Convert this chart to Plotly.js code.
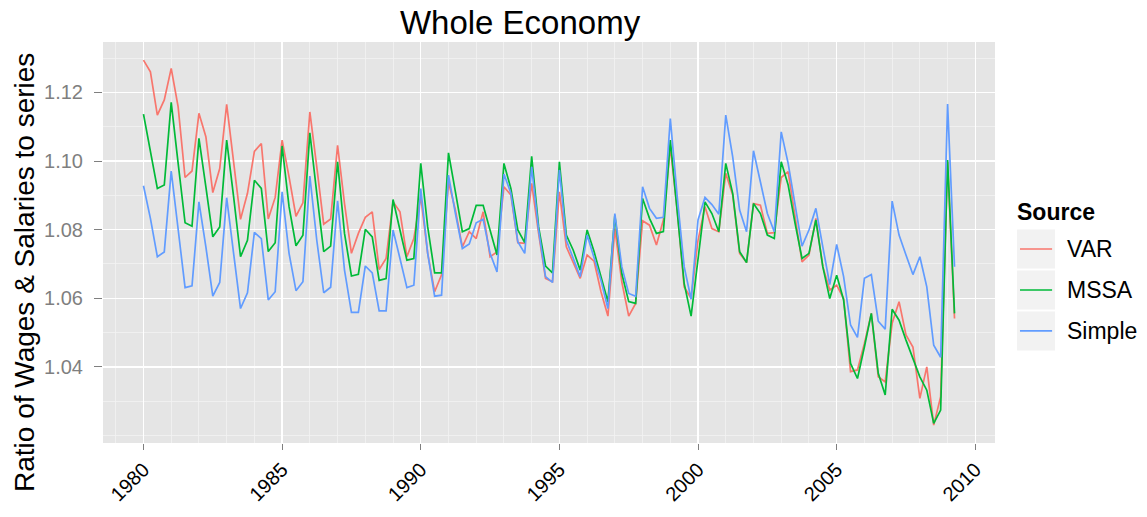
<!DOCTYPE html>
<html>
<head>
<meta charset="utf-8">
<script src="https://cdn.plot.ly/plotly-3.0.1.min.js"></script>
<style>html,body{margin:0;padding:0;background:#fff;}#chart{width:1147px;height:517px;}</style>
</head>
<body>
<div id="chart"></div>
<script>
// Quarterly series, 1980 Q1 .. 2009 Q2
const startYear = 1980;
const legendTitle = "Source";
const seriesNames = ["VAR", "MSSA", "Simple"];
const seriesColors = ["#F8766D", "#00BA38", "#619CFF"];

const varValues = [
1.1294,1.1260,1.1134,1.1178,1.1270,1.1158,1.0952,1.0971,1.1139,1.1071,
1.0908,1.0978,1.1165,1.0998,1.0830,1.0906,1.1028,1.1051,1.0831,1.0894,
1.1061,1.0954,1.0839,1.0878,1.1143,1.0983,1.0816,1.0831,1.1046,1.0876,
1.0731,1.0789,1.0836,1.0852,1.0684,1.0716,1.0881,1.0852,1.0721,1.0774,
1.0896,1.0731,1.0619,1.0668,1.0939,1.0857,1.0750,1.0794,1.0774,1.0852,
1.0721,1.0735,1.0925,1.0901,1.0762,1.0760,1.0935,1.0789,1.0658,1.0648,
1.0910,1.0750,1.0702,1.0658,1.0726,1.0708,1.0619,1.0548,1.0803,1.0648,
1.0548,1.0585,1.0826,1.0813,1.0755,1.0828,1.1041,1.0857,1.0633,1.0600,
1.0769,1.0867,1.0803,1.0794,1.0964,1.0901,1.0731,1.0704,1.0876,1.0871,
1.0789,1.0791,1.0952,1.0969,1.0837,1.0706,1.0726,1.0833,1.0692,1.0624,
1.0638,1.0599,1.0386,1.0391,1.0468,1.0556,1.0371,1.0356,1.0527,1.0590,
1.0493,1.0458,1.0308,1.0400,1.0230,1.0313,1.0998,1.0541];

const mssaValues = [
1.1137,1.1032,1.0920,1.0930,1.1171,1.0993,1.0820,1.0810,1.1066,1.0925,
1.0779,1.0808,1.1061,1.0896,1.0721,1.0769,1.0944,1.0920,1.0736,1.0762,
1.1044,1.0867,1.0753,1.0784,1.1082,1.0906,1.0736,1.0752,1.0998,1.0789,
1.0665,1.0670,1.0801,1.0779,1.0652,1.0657,1.0888,1.0799,1.0711,1.0716,
1.0993,1.0808,1.0674,1.0674,1.1024,1.0910,1.0794,1.0803,1.0871,1.0871,
1.0799,1.0726,1.0993,1.0920,1.0799,1.0762,1.1014,1.0808,1.0694,1.0674,
1.0998,1.0784,1.0740,1.0682,1.0799,1.0736,1.0663,1.0590,1.0842,1.0672,
1.0590,1.0585,1.0891,1.0833,1.0789,1.0794,1.1061,1.0857,1.0643,1.0548,
1.0721,1.0881,1.0847,1.0794,1.0993,1.0906,1.0736,1.0704,1.0876,1.0847,
1.0784,1.0774,1.0998,1.0930,1.0818,1.0716,1.0731,1.0828,1.0692,1.0599,
1.0667,1.0595,1.0410,1.0366,1.0458,1.0556,1.0381,1.0318,1.0568,1.0536,
1.0478,1.0425,1.0371,1.0332,1.0235,1.0274,1.1003,1.0556];

const simpleValues = [
1.0928,1.0833,1.0721,1.0735,1.0971,1.0799,1.0631,1.0636,1.0881,1.0750,
1.0606,1.0646,1.0893,1.0731,1.0570,1.0616,1.0792,1.0774,1.0595,1.0619,
1.0910,1.0731,1.0622,1.0648,1.0956,1.0769,1.0616,1.0632,1.0884,1.0682,
1.0559,1.0559,1.0694,1.0674,1.0563,1.0563,1.0799,1.0716,1.0631,1.0638,
1.0920,1.0731,1.0606,1.0609,1.0959,1.0847,1.0745,1.0758,1.0820,1.0830,
1.0731,1.0677,1.0962,1.0906,1.0765,1.0731,1.0983,1.0799,1.0663,1.0646,
1.0974,1.0769,1.0716,1.0663,1.0784,1.0721,1.0652,1.0570,1.0847,1.0692,
1.0614,1.0606,1.0925,1.0862,1.0833,1.0836,1.1124,1.0896,1.0692,1.0597,
1.0828,1.0894,1.0873,1.0845,1.1134,1.1012,1.0857,1.0794,1.1030,1.0939,
1.0847,1.0794,1.1085,1.0993,1.0867,1.0752,1.0799,1.0862,1.0750,1.0640,
1.0757,1.0663,1.0522,1.0486,1.0658,1.0669,1.0533,1.0510,1.0883,1.0784,
1.0726,1.0669,1.0721,1.0633,1.0463,1.0428,1.1166,1.0692];

const xTickVals = [1980, 1985, 1990, 1995, 2000, 2005, 2010];
const xTickText = ["1980", "1985", "1990", "1995", "2000", "2005", "2010"];
const yTickVals = [1.04, 1.06, 1.08, 1.10, 1.12];
const yTickText = ["1.04", "1.06", "1.08", "1.10", "1.12"];
const yTitle = "Ratio of Wages & Salaries to series";

const quarters = [];
for (let i = 0; i < varValues.length; i++) quarters.push(startYear + i / 4);

const allSeries = [varValues, mssaValues, simpleValues];
const traces = allSeries.map((vals, k) => ({
  x: quarters, y: vals, type: "scatter", mode: "lines",
  name: seriesNames[k], showlegend: false,
  line: {color: seriesColors[k], width: 1.7}
}));

// ggplot-style legend drawn in paper coordinates
const keyStep = 0.1022;
const shapes = [];
const annotations = [];
seriesNames.forEach((nm, k) => {
  const yc = 0.4838 - k * keyStep;
  shapes.push({
    type: "rect", xref: "paper", yref: "paper", layer: "below",
    x0: 1.0247, x1: 1.0673, y0: yc - 0.0486, y1: yc + 0.0486,
    fillcolor: "#F2F2F2", line: {width: 0}
  });
  shapes.push({
    type: "line", xref: "paper", yref: "paper",
    x0: 1.0280, x1: 1.0640, y0: yc, y1: yc,
    line: {color: seriesColors[k], width: 1.7}
  });
  annotations.push({
    text: nm, showarrow: false, xref: "paper", yref: "paper",
    x: 1.0790, y: yc, xanchor: "left", yanchor: "middle",
    font: {size: 23, color: "#000000"}
  });
});
annotations.push({
  text: "<b>" + legendTitle + "</b>", showarrow: false, xref: "paper", yref: "paper",
  x: 1.0225, y: 0.576, xanchor: "left", yanchor: "middle",
  font: {size: 23, color: "#000000"}
});
annotations.push({
  text: yTitle, textangle: -90, showarrow: false,
  xref: "paper", yref: "paper", x: -0.0874, y: 0.424,
  xanchor: "center", yanchor: "middle",
  font: {size: 28, color: "#000000"}
});

const layout = {
  width: 1147, height: 517,
  margin: {l: 103, r: 152, t: 42, b: 74},
  paper_bgcolor: "#FFFFFF", plot_bgcolor: "#E5E5E5",
  font: {family: "Liberation Sans, Arial, sans-serif", color: "#000000"},
  title: {text: "Whole Economy", font: {size: 33, color: "#000000"},
          x: 0.4534, xanchor: "center", y: 0.957, yanchor: "middle", xref: "container"},
  showlegend: false,
  xaxis: {
    range: [1978.54, 2010.71], tickvals: xTickVals, ticktext: xTickText,
    tickangle: -45, tickfont: {size: 20, color: "#000000"},
    ticks: "outside", ticklen: 6, tickcolor: "#7F7F7F", tickwidth: 1,
    showgrid: true, gridcolor: "#FFFFFF", gridwidth: 1.4,
    minor: {dtick: 1, showgrid: true, gridcolor: "#F2F2F2", gridwidth: 0.8},
    zeroline: false, showline: false
  },
  yaxis: {
    range: [1.0178, 1.1347], tickvals: yTickVals, ticktext: yTickText,
    tickfont: {size: 20, color: "#7F7F7F"},
    ticks: "outside", ticklen: 8, tickcolor: "#7F7F7F", tickwidth: 1,
    ticklabelstandoff: 7,
    showgrid: true, gridcolor: "#FFFFFF", gridwidth: 1.4,
    minor: {dtick: 0.01, tick0: 1.0, showgrid: true, gridcolor: "#F2F2F2", gridwidth: 0.8},
    zeroline: false, showline: false
  },
  annotations: annotations,
  shapes: shapes
};

Plotly.newPlot("chart", traces, layout, {displayModeBar: false, staticPlot: true});
</script>
</body>
</html>
